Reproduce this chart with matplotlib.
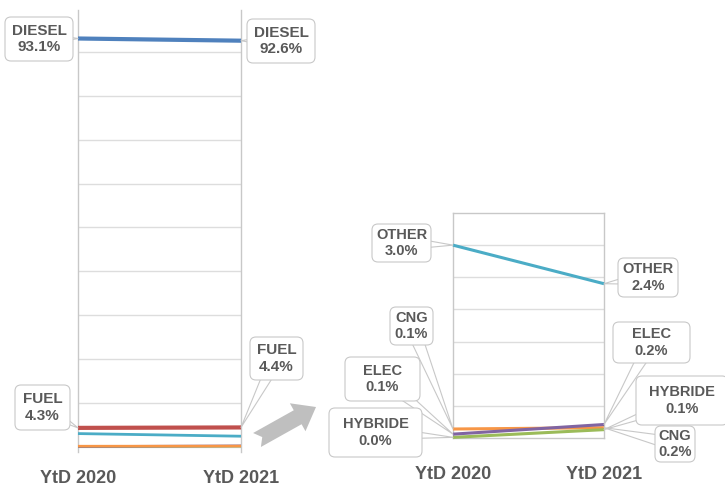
import matplotlib
matplotlib.use("Agg")
import numpy as np
import matplotlib.pyplot as plt
from matplotlib.patches import FancyBboxPatch, Polygon
from matplotlib.lines import Line2D
from matplotlib.transforms import Affine2D

plt.rcParams['font.family'] = ['Liberation Sans', 'DejaVu Sans']

# Fuel-type share of registrations (%)
periods = ["YtD 2020", "YtD 2021"]
diesel = [93.1, 92.6]
fuel = [4.3, 4.4]
other = [3.0, 2.4]
cng = [0.14, 0.16]
elec = [0.06, 0.21]
hybride = [0.01, 0.13]

COL_DIESEL = '#4F81BD'
COL_FUEL = '#C0504D'
COL_OTHER = '#4BACC6'
COL_CNG = '#F79646'
COL_ELEC = '#8064A2'
COL_HYBRIDE = '#9BBB59'

W, H = 725, 486
TXT = '#595959'
EDGE = '#C8C8C8'
GRID = '#DDDDDD'

fig = plt.figure(figsize=(W / 100, H / 100), dpi=100)
px = Affine2D().scale(1 / W, 1 / H) + fig.transFigure  # pixel coords, origin bottom-left


def img_axes(x0, y0, x1, y1):
    """Axes from a pixel box given with a top-left origin."""
    return fig.add_axes([x0 / W, 1 - y1 / H, (x1 - x0) / W, (y1 - y0) / H])


ax_all = img_axes(78, 10, 241, 452)
ax_zoom = img_axes(453, 213, 604, 438)


def style(ax, ylim, grid_vals, pad, box):
    ax.set_xlim(0, 1)
    ax.set_ylim(*ylim)
    for g in grid_vals:
        ax.axhline(g, color=GRID, lw=1, zorder=0)
    ax.set_yticks([])
    ax.set_xticks([0, 1], periods)
    ax.tick_params(axis='x', length=0, pad=pad, labelsize=13, labelcolor=TXT)
    for lbl in ax.get_xticklabels():
        lbl.set_fontweight('bold')
    for side, sp in ax.spines.items():
        sp.set_color(EDGE)
        sp.set_linewidth(1)
        if not box and side in ('top', 'bottom'):
            sp.set_visible(False)


style(ax_all, (-1.2, 99.6), np.arange(0, 100, 10), 13, False)
style(ax_zoom, (0, 3.5), np.arange(0.5, 3.01, 0.5), 20, True)

x = [0, 1]
# overview panel
for vals, col, lw in [(hybride, COL_HYBRIDE, 1.8), (elec, COL_ELEC, 1.8),
                      (other, COL_OTHER, 2.0), (fuel, COL_FUEL, 3.0),
                      (diesel, COL_DIESEL, 3.0), (cng, COL_CNG, 1.8)]:
    ax_all.plot(x, vals, color=col, lw=lw, solid_capstyle='butt', clip_on=False, zorder=3)

# zoomed panel
for vals, col in [(other, COL_OTHER), (cng, COL_CNG),
                  (hybride, COL_HYBRIDE), (elec, COL_ELEC)]:
    ax_zoom.plot(x, vals, color=col, lw=2.2, solid_capstyle='butt', clip_on=False, zorder=3)

# callout labels: (axes, name, values, period index, box in pixels (x0, y0, x1, y1) top-left origin, font size)
callouts = [
    (ax_all, "DIESEL", diesel, 0, (5, 17, 73, 61), 11),
    (ax_all, "DIESEL", diesel, 1, (247, 19, 315, 63), 11),
    (ax_all, "FUEL", fuel, 0, (15, 385, 70, 430), 11),
    (ax_all, "FUEL", fuel, 1, (250, 337, 303, 380), 11),
    (ax_zoom, "OTHER", other, 0, (372, 224, 431, 262), 10.5),
    (ax_zoom, "OTHER", other, 1, (618, 258, 678, 297), 10.5),
    (ax_zoom, "CNG", cng, 0, (390, 307, 433, 345), 10.5),
    (ax_zoom, "ELEC", elec, 0, (345, 357, 420, 401), 10.5),
    (ax_zoom, "HYBRIDE", hybride, 0, (329, 408, 422, 457), 10.5),
    (ax_zoom, "ELEC", elec, 1, (613, 322, 690, 363), 10.5),
    (ax_zoom, "HYBRIDE", hybride, 1, (636, 376, 728, 425), 10.5),
    (ax_zoom, "CNG", cng, 1, (655, 426, 695, 462), 10.5),
]

for ax, name, vals, i, (bx0, by0, bx1, by1), fs in callouts:
    cx, cy = (bx0 + bx1) / 2, H - (by0 + by1) / 2
    px_pt = ax.transData.transform((x[i], vals[i]))
    d = np.array(px_pt) - np.array([cx, cy])
    n = np.array([-d[1], d[0]]) / np.hypot(*d)
    hw = 7
    wedge = Line2D([cx + hw * n[0], px_pt[0], cx - hw * n[0]],
                   [cy + hw * n[1], px_pt[1], cy - hw * n[1]],
                   transform=px, color=EDGE, lw=0.8, zorder=4)
    fig.add_artist(wedge)
    box = FancyBboxPatch((bx0, H - by1), bx1 - bx0, by1 - by0,
                         boxstyle='round,pad=0,rounding_size=6',
                         transform=px, fc='white', ec=EDGE, lw=0.8, zorder=5)
    fig.add_artist(box)
    fig.text(cx / W, cy / H, f"{name}\n{vals[i]:.1f}%", ha='center', va='center',
             ma='center', fontsize=fs, fontweight='bold', color=TXT, zorder=6,
             linespacing=1.2)

# block arrow linking the overview to the zoomed panel
tip = np.array([316, H - 407])
tail = np.array([257, H - 440])
u = (tip - tail) / np.hypot(*(tip - tail))
nv = np.array([-u[1], u[0]])
base = tip - 21 * u
shape = [tip, base + 16 * nv, base + 8 * nv, tail + 8 * nv, tail + 6 * u,
         tail - 8 * nv, base - 8 * nv, base - 16 * nv]
fig.add_artist(Polygon(shape, closed=True, transform=px, fc='#BFBFBF', ec='none', zorder=2))

fig.savefig("out.png", dpi=100)
